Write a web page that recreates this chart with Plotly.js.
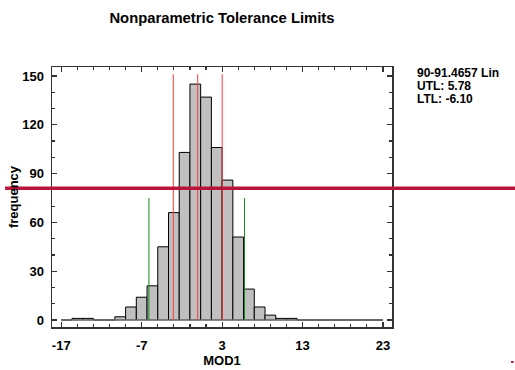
<!DOCTYPE html>
<html>
<head>
<meta charset="utf-8">
<script src="https://cdn.plot.ly/plotly-3.0.1.min.js"></script>
<style>
  html, body { margin: 0; padding: 0; background: #fff; overflow: hidden; }
  #chart { width: 515px; height: 370px; }
</style>
</head>
<body>
<div id="chart"></div>
<script>
// ---- data ----
const binStart = -17;
const binEnd = 23;
const binWidth = 4 / 3;
const counts = [0, 1, 1, 0, 0, 2, 8, 14, 21, 45, 66, 103, 145, 137, 106, 86, 51, 19, 8, 3, 1, 1, 0, 0, 0, 0, 0, 0, 0, 0];
const redLines = [-3.07, -0.04, 3.01];
const redTop = 151;
const tolLimits = [-6.10, 5.78];
const greenTop = 75;
const refLevel = 81;
const xTicks = [-17, -7, 3, 13, 23];
const yTicks = [0, 30, 60, 90, 120, 150];
const legendLines = ['90-91.4657 Lin', 'UTL: 5.78', 'LTL: -6.10'];
const chartTitle = 'Nonparametric Tolerance Limits';
const xTitle = 'MOD1';
const yTitle = 'frequency';

const centers = counts.map((c, i) => binStart + (i + 0.5) * binWidth);

const FONT = 'Liberation Sans, Arial, Helvetica, sans-serif';
const crimson = '#b8143c';

const traces = [
  {
    type: 'bar',
    x: centers,
    y: counts,
    width: binWidth,
    marker: { color: '#c0c0c0', line: { color: '#000000', width: 1 } },
    hoverinfo: 'skip'
  }
];

const shapes = [];
// zero baseline across all bins
shapes.push({ type: 'line', xref: 'x', yref: 'y', x0: binStart, x1: binEnd, y0: 0, y1: 0,
  line: { color: '#909090', width: 1 }, layer: 'above' });
redLines.forEach(v => shapes.push({ type: 'line', xref: 'x', yref: 'y', x0: v, x1: v, y0: 0, y1: redTop,
  line: { color: '#ff3b3b', width: 1 }, layer: 'above' }));
tolLimits.forEach(v => shapes.push({ type: 'line', xref: 'x', yref: 'y', x0: v, x1: v, y0: 0, y1: greenTop,
  line: { color: '#1a8a1a', width: 1 }, layer: 'above' }));
shapes.push({ type: 'line', xref: 'paper', yref: 'y', x0: -0.138, x1: 1.37, y0: refLevel, y1: refLevel,
  line: { color: crimson, width: 3.5 }, layer: 'above' });
shapes.push({ type: 'rect', xref: 'paper', yref: 'paper', x0: 1.3503, x1: 1.3577, y0: -0.1308, y1: -0.1385,
  fillcolor: crimson, line: { width: 0 }, layer: 'above' });

// legend lines, centers at 73, 86, 99 px from top
const legendY = [(327 - 73) / 260, (327 - 86) / 260, (327 - 99) / 260];
const annotations = legendLines.map((t, i) => ({
  xref: 'paper', yref: 'paper', x: 1.0676, y: legendY[i], xanchor: 'left', yanchor: 'middle',
  text: t, showarrow: false, font: { family: FONT, size: 12, weight: 'bold', color: '#000' }
}));

const axisCommon = {
  showline: true, linecolor: '#333333', linewidth: 1.5, mirror: 'allticks',
  ticks: 'inside', ticklen: 5, tickwidth: 1.2, tickcolor: '#333333',
  showgrid: false, zeroline: false, fixedrange: true,
  tickfont: { family: FONT, size: 13, weight: 'bold', color: '#000' }
};

const layout = {
  width: 515, height: 370,
  margin: { l: 52, r: 123, t: 67, b: 43, pad: 0 },
  paper_bgcolor: '#ffffff', plot_bgcolor: '#ffffff',
  showlegend: false,
  bargap: 0,
  title: { text: chartTitle, x: 0.431, xanchor: 'center', y: 0.951, yanchor: 'middle',
    font: { family: FONT, size: 14.8, weight: 'bold', color: '#000' } },
  xaxis: Object.assign({}, axisCommon, {
    range: [-18.15, 24.12], tickmode: 'array', tickvals: xTicks, ticktext: xTicks.map(String),
    ticklabelstandoff: 6,
    minor: { dtick: 2, tick0: binStart, ticks: 'inside', ticklen: 3, tickcolor: '#333333', tickwidth: 1.2 },
    title: { text: xTitle, standoff: 2, font: { family: FONT, size: 13, weight: 'bold', color: '#000' } }
  }),
  yaxis: Object.assign({}, axisCommon, {
    range: [-4.3, 155.5], tickmode: 'array', tickvals: yTicks, ticktext: yTicks.map(String),
    ticklabelstandoff: 4,
    minor: { dtick: 10, tick0: 0, ticks: 'inside', ticklen: 3, tickcolor: '#333333', tickwidth: 1.2 },
    title: { text: yTitle, standoff: 0, font: { family: FONT, size: 13, weight: 'bold', color: '#000' } }
  }),
  shapes: shapes,
  annotations: annotations
};

Plotly.newPlot('chart', traces, layout, { displayModeBar: false, staticPlot: true });
</script>
</body>
</html>
